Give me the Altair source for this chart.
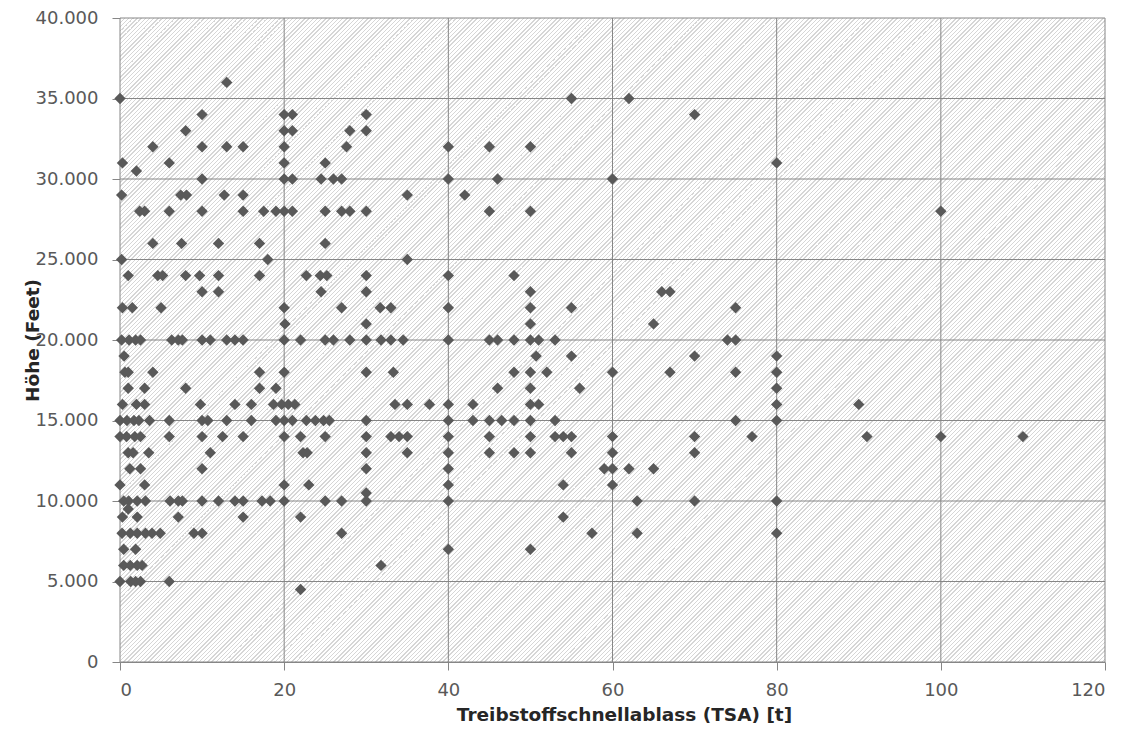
import altair as alt
import pandas as pd

# Treibstoffschnellablass (TSA) [t] and Höhe (Feet), read row by row (by altitude)
tsa = [
    13,
    0, 55, 62,
    10, 20, 21, 30, 70,
    8, 20, 21, 28, 30,
    4, 10, 13, 15, 20, 27.6, 40, 45, 50,
    0.3, 6, 20, 25, 80,
    2,
    10, 20, 21, 24.5, 26, 27, 40, 46, 60,
    0.2, 7.4, 8.1, 12.7, 15, 35, 42,
    2.4, 3, 6, 10, 15, 17.5, 19, 20, 21, 25, 27, 28, 30, 45, 50, 100,
    4, 7.5, 12, 17, 25,
    0.2, 18, 35,
    1, 4.6, 5.2, 8, 9.7, 12, 17, 22.7, 24.4, 25.2, 30, 40, 48,
    10, 12, 24.5, 30, 50, 66, 67,
    0.3, 1.5, 5, 20, 27, 31.7, 33, 40, 50, 55, 75,
    20.1, 30, 50, 65,
    0.2, 1.1, 1.9, 2.5, 6.3, 7.1, 7.6, 10, 11, 13, 14, 15, 20, 22, 25, 26, 28, 30, 31.8, 33, 34.5, 40, 45, 46, 48, 50, 51, 53, 74, 75,
    0.5, 50.7, 55, 70, 80,
    0.6, 1, 4, 17, 20, 30, 33.3, 48, 50, 52, 60, 67, 75, 80,
    1, 3, 8, 17, 19, 46, 50, 56, 80,
    0.3, 2, 3, 9.8, 14, 16, 18.7, 19.7, 20.5, 21.3, 33.5, 35, 37.7, 40, 43, 50, 51, 80, 90,
    0, 0.85, 1.7, 2.3, 3.6, 6, 10, 10.7, 13, 16, 19, 20, 21, 22.7, 23.8, 24.8, 25.5, 30, 40, 43, 45, 46.5, 48, 50, 53, 75, 80,
    0, 0.8, 1.8, 2.5, 6, 10, 12.5, 15, 20, 22, 25, 30, 33, 34, 35, 40, 45, 50, 53, 54, 55, 60, 70, 77, 91, 100, 110,
    1, 1.6, 3.5, 11, 22.3, 22.8, 30, 35, 40, 45, 48, 50, 55, 60, 70,
    1.2, 2.5, 10, 30, 40, 59, 60, 62, 65,
    0, 3, 20, 23, 40, 54, 60,
    30,
    0.45, 1.05, 2.1, 3.1, 6.1, 7.1, 7.6, 10, 12, 14, 15, 17.3, 18.3, 20, 25, 27, 30, 40, 63, 70, 80,
    1,
    0.3, 2.1, 7.1, 15, 22, 54,
    0.25, 1.25, 2.1, 3.1, 3.9, 4.9, 9, 10, 27, 57.5, 63, 80,
    0.45, 1.9, 40, 50,
    0.45, 1.25, 2.1, 2.7, 31.8,
    0, 1.3, 1.9, 2.5, 6,
    22,
]

hoehe = (
    [36000] * 1 + [35000] * 3 + [34000] * 5 + [33000] * 5 + [32000] * 9
    + [31000] * 5 + [30500] * 1 + [30000] * 9 + [29000] * 7 + [28000] * 16
    + [26000] * 5 + [25000] * 3 + [24000] * 13 + [23000] * 7 + [22000] * 11
    + [21000] * 4 + [20000] * 30 + [19000] * 5 + [18000] * 14 + [17000] * 9
    + [16000] * 19 + [15000] * 27 + [14000] * 27 + [13000] * 15 + [12000] * 9
    + [11000] * 7 + [10500] * 1 + [10000] * 21 + [9500] * 1 + [9000] * 6
    + [8000] * 12 + [7000] * 4 + [6000] * 5 + [5000] * 5 + [4500] * 1
)

x_ticks = [0, 20, 40, 60, 80, 100, 120]
y_ticks = [0, 5000, 10000, 15000, 20000, 25000, 30000, 35000, 40000]

df = pd.DataFrame({"TSA": tsa, "Hoehe": hoehe})

# plot area size
W, H = 985, 644

# diagonal hatch background as a striped linear gradient (SVG objectBoundingBox)
S = W + H
pitch = 4.2
lw = 1.4
line_col = "#d6d6d6"
bg_col = "#ffffff"
stops = []
k = 0
while k * pitch < S:
    o0 = k * pitch / S
    o1 = min((k * pitch + lw) / S, 1.0)
    o2 = min(((k + 1) * pitch) / S, 1.0)
    stops.append(alt.GradientStop(offset=o0, color=line_col))
    stops.append(alt.GradientStop(offset=o1, color=line_col))
    stops.append(alt.GradientStop(offset=o1, color=bg_col))
    stops.append(alt.GradientStop(offset=o2, color=bg_col))
    k += 1
c = S / (W * W + H * H)
hatch = alt.LinearGradient(
    gradient="linear", stops=stops, x1=0, y1=0, x2=W * c, y2=H * c
)

grid_col = "#868686"
label_col = "#595959"
font = "DejaVu Sans"

xscale = alt.Scale(domain=[0, 120], nice=False, zero=True)
yscale = alt.Scale(domain=[0, 40000], nice=False)

background = (
    alt.Chart(pd.DataFrame({"a": [0]}))
    .mark_rect(fill=hatch)
    .encode(
        x=alt.value(0), x2=alt.value(W), y=alt.value(0), y2=alt.value(H)
    )
)

vgrid = (
    alt.Chart(pd.DataFrame({"gx": x_ticks}))
    .mark_rule(color=grid_col, strokeWidth=1)
    .encode(x=alt.X("gx:Q", scale=xscale))
)
hgrid = (
    alt.Chart(pd.DataFrame({"gy": y_ticks}))
    .mark_rule(color=grid_col, strokeWidth=1)
    .encode(y=alt.Y("gy:Q", scale=yscale))
)

points = (
    alt.Chart(df)
    .mark_point(shape="diamond", filled=True, size=130, color="#595959", opacity=1)
    .encode(
        x=alt.X(
            "TSA:Q",
            scale=xscale,
            axis=alt.Axis(
                values=x_ticks,
                title="Treibstoffschnellablass  (TSA) [t]",
                titleX=504,
                titleY=52,
                titleAlign="center",
                titleBaseline="middle",
                labelBaseline="middle",
                labelPadding=20,
            ),
        ),
        y=alt.Y(
            "Hoehe:Q",
            scale=yscale,
            axis=alt.Axis(
                values=y_ticks,
                title="Höhe (Feet)",
                labelExpr="replace(format(datum.value, ','), ',', '.')",
                titleX=-88,
                titleY=H / 2,
                titleAngle=-90,
                titleAlign="center",
                titleBaseline="middle",
                labelPadding=14,
            ),
        ),
    )
)

chart = (
    alt.layer(background, vgrid, hgrid, points)
    .properties(
        width=W,
        height=H,
        autosize=alt.AutoSizeParams(type="none"),
        padding={"left": 120, "top": 18, "right": 25, "bottom": 83},
        background="white",
    )
    .configure_view(stroke=None)
    .configure_axis(
        grid=False,
        zindex=1,
        domainColor=grid_col,
        domainWidth=1,
        tickColor=grid_col,
        tickSize=8,
        tickWidth=1,
        labelFont=font,
        labelFontSize=18,
        labelColor=label_col,
        titleFont=font,
        titleFontSize=18.5,
        titleFontWeight="bold",
        titleColor="#262626",
    )
)

chart.save("out.html", embed_options={"renderer": "svg", "actions": False})
